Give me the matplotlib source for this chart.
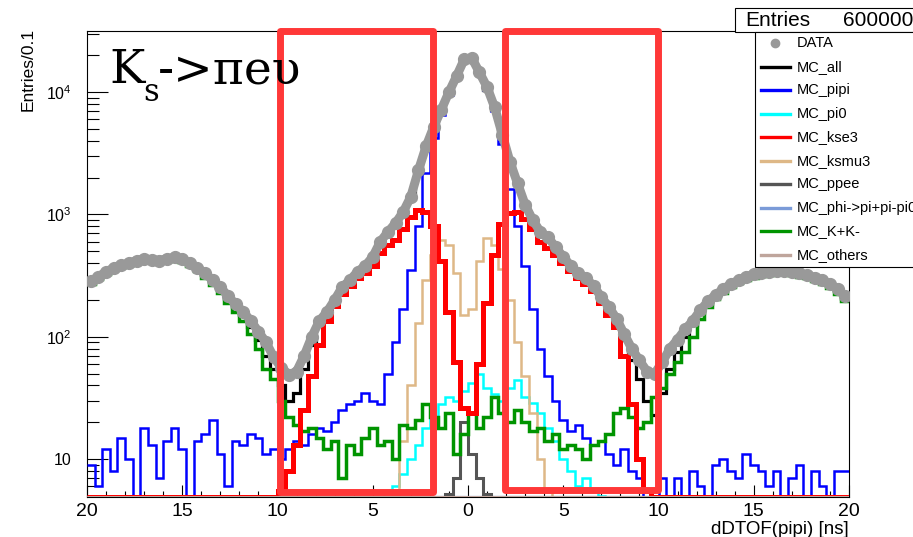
import numpy as np
import matplotlib
matplotlib.use("Agg")
import matplotlib.pyplot as plt
import matplotlib.transforms as mtransforms
from matplotlib.lines import Line2D
from matplotlib.patches import Rectangle

plt.rcParams['font.family'] = ['Liberation Sans', 'DejaVu Sans']
plt.rcParams['mathtext.default'] = 'regular'

W, H, DPI = 913, 537, 100

# dDTOF(pipi) histograms, 100 bins of 0.4 ns over [-20, 20] ns
edges = np.linspace(-20.0, 20.0, 101)
centers = 0.5 * (edges[:-1] + edges[1:])

data = [285, 310, 340, 365, 385, 400, 420, 430, 425, 420,
        435, 445, 430, 400, 365, 330, 290, 255, 215, 185,
        160, 135, 110, 90, 68, 56, 49, 52, 70, 100,
        135, 160, 200, 255, 290, 340, 380, 450, 600, 720,
        850, 1050, 1400, 2300, 3600, 5200, 7200, 10000, 13500, 18500,
        19000, 14500, 11000, 7500, 4500, 2700, 1800, 1200, 900, 720,
        650, 540, 450, 380, 330, 300, 260, 210, 175, 140,
        105, 80, 64, 52, 50, 62, 80, 95, 115, 135,
        165, 195, 220, 245, 270, 290, 310, 325, 335, 340,
        345, 345, 340, 330, 320, 305, 290, 270, 245, 215]

mc_all = [275, 300, 330, 360, 380, 395, 410, 420, 420, 415,
          425, 430, 420, 390, 355, 320, 280, 245, 205, 175,
          150, 120, 95, 70, 55, 40, 30, 35, 55, 85,
          125, 155, 195, 245, 280, 330, 370, 440, 580, 700,
          830, 1020, 1350, 2200, 3500, 5000, 7000, 9800, 13000, 18000,
          18500, 14000, 10500, 7200, 4400, 2700, 1750, 1250, 880, 700,
          630, 520, 440, 370, 320, 290, 250, 200, 165, 130,
          95, 65, 45, 30, 23, 35, 55, 75, 100, 125,
          155, 185, 210, 235, 260, 280, 300, 315, 325, 330,
          335, 335, 330, 320, 310, 295, 280, 260, 235, 205]

mc_pipi = [9, 6, 12, 8, 15, 10, 5, 18, 13, 7,
           14, 18, 12, 4, 14, 16, 21, 11, 6, 14,
           13, 16, 15, 11, 12, 10, 12, 14, 13, 16,
           18, 17, 20, 25, 28, 30, 35, 30, 28, 50,
           90, 170, 350, 800, 2200, 4200, 6500, 9500, 13000, 18000,
           18500, 14000, 10500, 7000, 3800, 1600, 800, 380, 170, 80,
           48, 30, 21, 17, 19, 15, 13, 14, 11, 9,
           12, 8, 7, 4, 5, 7, 5, 7, 4, 8,
           6, 5, 9, 10, 8, 7, 11, 9, 8, 6,
           8, 5, 7, 9, 4, 8, 6, 5, 8, 8]

mc_pi0 = [0] * 39 + [5.5, 6, 7.5, 10, 13, 18, 22, 28, 32, 30, 36,
                     42, 50, 38, 34, 30, 38, 44, 32, 29, 24, 18, 14, 10,
                     8, 6, 7, 5.5, 5] + [0] * 32

mc_kse3 = [0] * 25 + [5.5, 8, 13, 25, 48, 85, 135, 180, 225, 260,
                      300, 330, 380, 480, 560, 620, 760, 950, 1080, 1050,
                      800, 420, 160, 62, 26,
                      24, 60, 190, 470, 830, 1020, 1050, 920, 760, 600,
                      530, 470, 400, 345, 300, 270, 235, 190, 150, 120,
                      70, 28, 10, 5.5] + [0] * 26

mc_ksmu3 = [0] * 40 + [5, 14, 40, 130, 290, 470, 620, 560, 330, 150,
                       170, 420, 640, 560, 360, 200, 90, 48, 24, 10,
                       5.5] + [0] * 39

mc_ppee = [0] * 47 + [5.2, 7, 20, 11, 7, 5.2] + [0] * 47

mc_phi = [0] * 100

mc_kk = [270, 295, 325, 350, 370, 385, 400, 410, 410, 405,
         415, 420, 410, 380, 345, 305, 265, 230, 190, 160,
         135, 105, 80, 55, 45, 30, 22, 19, 17, 18,
         15, 12, 14, 7, 13, 11, 15, 18, 13, 14,
         10, 19, 18, 21, 28, 22, 18, 24, 11, 16,
         24, 18, 22, 32, 24, 20, 25, 20, 17, 18,
         14, 16, 12, 13, 12, 10, 13, 14, 16, 24,
         26, 22, 18, 20, 32, 38, 50, 62, 75, 100,
         140, 175, 205, 230, 255, 275, 290, 305, 315, 320,
         325, 325, 320, 310, 300, 285, 270, 250, 225, 195]

mc_others = [0] * 100

# signal windows marked on the plot, in ns
windows = [(-9.88, -1.84), (1.94, 9.97)]

YMIN, YMAX = 4.9, 31600

# (label, values, colour, linewidth, zorder)
mc_series = [
    ("MC_all", mc_all, "black", 2.3, 2),
    ("MC_pipi", mc_pipi, "#0000ff", 1.8, 3),
    ("MC_pi0", mc_pi0, "#00ffff", 1.8, 3),
    ("MC_kse3", mc_kse3, "#ff0000", 3.6, 5),
    ("MC_ksmu3", mc_ksmu3, "#deb887", 1.8, 3),
    ("MC_ppee", mc_ppee, "#555555", 2.2, 4),
    ("MC_phi->pi+pi-pi0", mc_phi, "#7b9bd8", 1.6, 3),
    ("MC_K+K-", mc_kk, "#009400", 2.5, 4),
    ("MC_others", mc_others, "#bfa59c", 2.2, 6),
]
DATA_COLOR = "#999999"


def fx(px):
    return px / W


def fy(py):
    return 1 - py / H


fig = plt.figure(figsize=(W / DPI, H / DPI), dpi=DPI)
ax = fig.add_axes([fx(87), fy(497), fx(849) - fx(87), fy(31) - fy(497)])

# ROOT-style: empty bins are drawn along the frame bottom
for label, vals, color, lw, z in mc_series:
    v = np.maximum(np.asarray(vals, dtype=float), YMIN)
    ax.stairs(v, edges, baseline=None, color=color, lw=lw, zorder=z)

ax.plot(centers, data, color=DATA_COLOR, lw=6.5, marker="o", ms=8.5,
        mec=DATA_COLOR, mfc=DATA_COLOR, zorder=7, solid_capstyle="round",
        solid_joinstyle="round")

ax.set_yscale("log")
ax.set_xlim(-20, 20)
ax.set_ylim(YMIN, YMAX)

xt = np.arange(-20, 21, 5)
ax.set_xticks(xt)
ax.set_xticklabels([str(abs(int(t))) for t in xt])
ax.set_xticks(np.arange(-20, 21, 1), minor=True)
ax.set_yticks([10, 100, 1000, 10000])
ax.set_yticklabels(["10", "$10^{2}$", "$10^{3}$", "$10^{4}$"])
ax.tick_params(axis="x", which="major", direction="in", length=9, width=0.8,
               labelsize=14, pad=4, top=False)
ax.tick_params(axis="x", which="minor", direction="in", length=4.5, width=0.8,
               top=False)
ax.tick_params(axis="y", which="major", direction="in", length=15, width=0.8,
               labelsize=11.5, pad=11, right=False)
ax.tick_params(axis="y", which="minor", direction="in", length=8.5, width=0.8,
               right=False, labelleft=False)
for s in ax.spines.values():
    s.set_linewidth(0.8)

# signal window boxes
trans = mtransforms.blended_transform_factory(ax.transData, ax.transAxes)
for (x0, x1), y0 in zip(windows, [0.011, 0.015]):
    ax.add_patch(Rectangle((x0, y0), x1 - x0, 1.0 - y0, transform=trans,
                           fill=False, ec="#ff3838", lw=5, joinstyle="round",
                           clip_on=False, zorder=10))

# axis titles
fig.text(fx(849), fy(529), "dDTOF(pipi) [ns]", ha="right", va="center",
         fontsize=13.5)
fig.text(fx(28), fy(28), "Entries/0.1", rotation=90, ha="center", va="top",
         fontsize=12.5)

# decay label
serif = ["DejaVu Serif"]
fig.text(fx(109), fy(83), "K", family=serif, fontsize=34, ha="left",
         va="baseline")
fig.text(fx(143), fy(101), "s", family=serif, fontsize=22, ha="left",
         va="baseline")
fig.text(fx(158), fy(83), "->\u03c0e\u03c5", family=serif, fontsize=34,
         ha="left", va="baseline")

# stats box
fig.patches.append(Rectangle((fx(735), fy(32)), fx(260), fy(8) - fy(32),
                             transform=fig.transFigure, fc="white",
                             ec="black", lw=0.8, zorder=20))
fig.text(fx(745), fy(20), "Entries", fontsize=15, va="center", zorder=21)
fig.text(fx(843), fy(20), "600000", fontsize=15, va="center", zorder=21)

# legend box
fig.patches.append(Rectangle((fx(755), fy(267)), fx(260), fy(32) - fy(267),
                             transform=fig.transFigure, fc="white",
                             ec="black", lw=0.8, zorder=20))
entries = [("DATA", DATA_COLOR)] + [(m[0], m[2]) for m in mc_series]
for k, (label, color) in enumerate(entries):
    yk = 43 + 23.55 * k
    if label == "DATA":
        fig.lines.append(Line2D([fx(775)], [fy(yk)], transform=fig.transFigure,
                                marker="o", ms=6, color=color, ls="none",
                                zorder=21))
    else:
        fig.lines.append(Line2D([fx(761), fx(790)], [fy(yk), fy(yk)],
                                transform=fig.transFigure, color=color,
                                lw=2.4, zorder=21))
    fig.text(fx(797), fy(yk), label, fontsize=10.5, va="center", zorder=21)

fig.savefig("out.png", dpi=DPI)
